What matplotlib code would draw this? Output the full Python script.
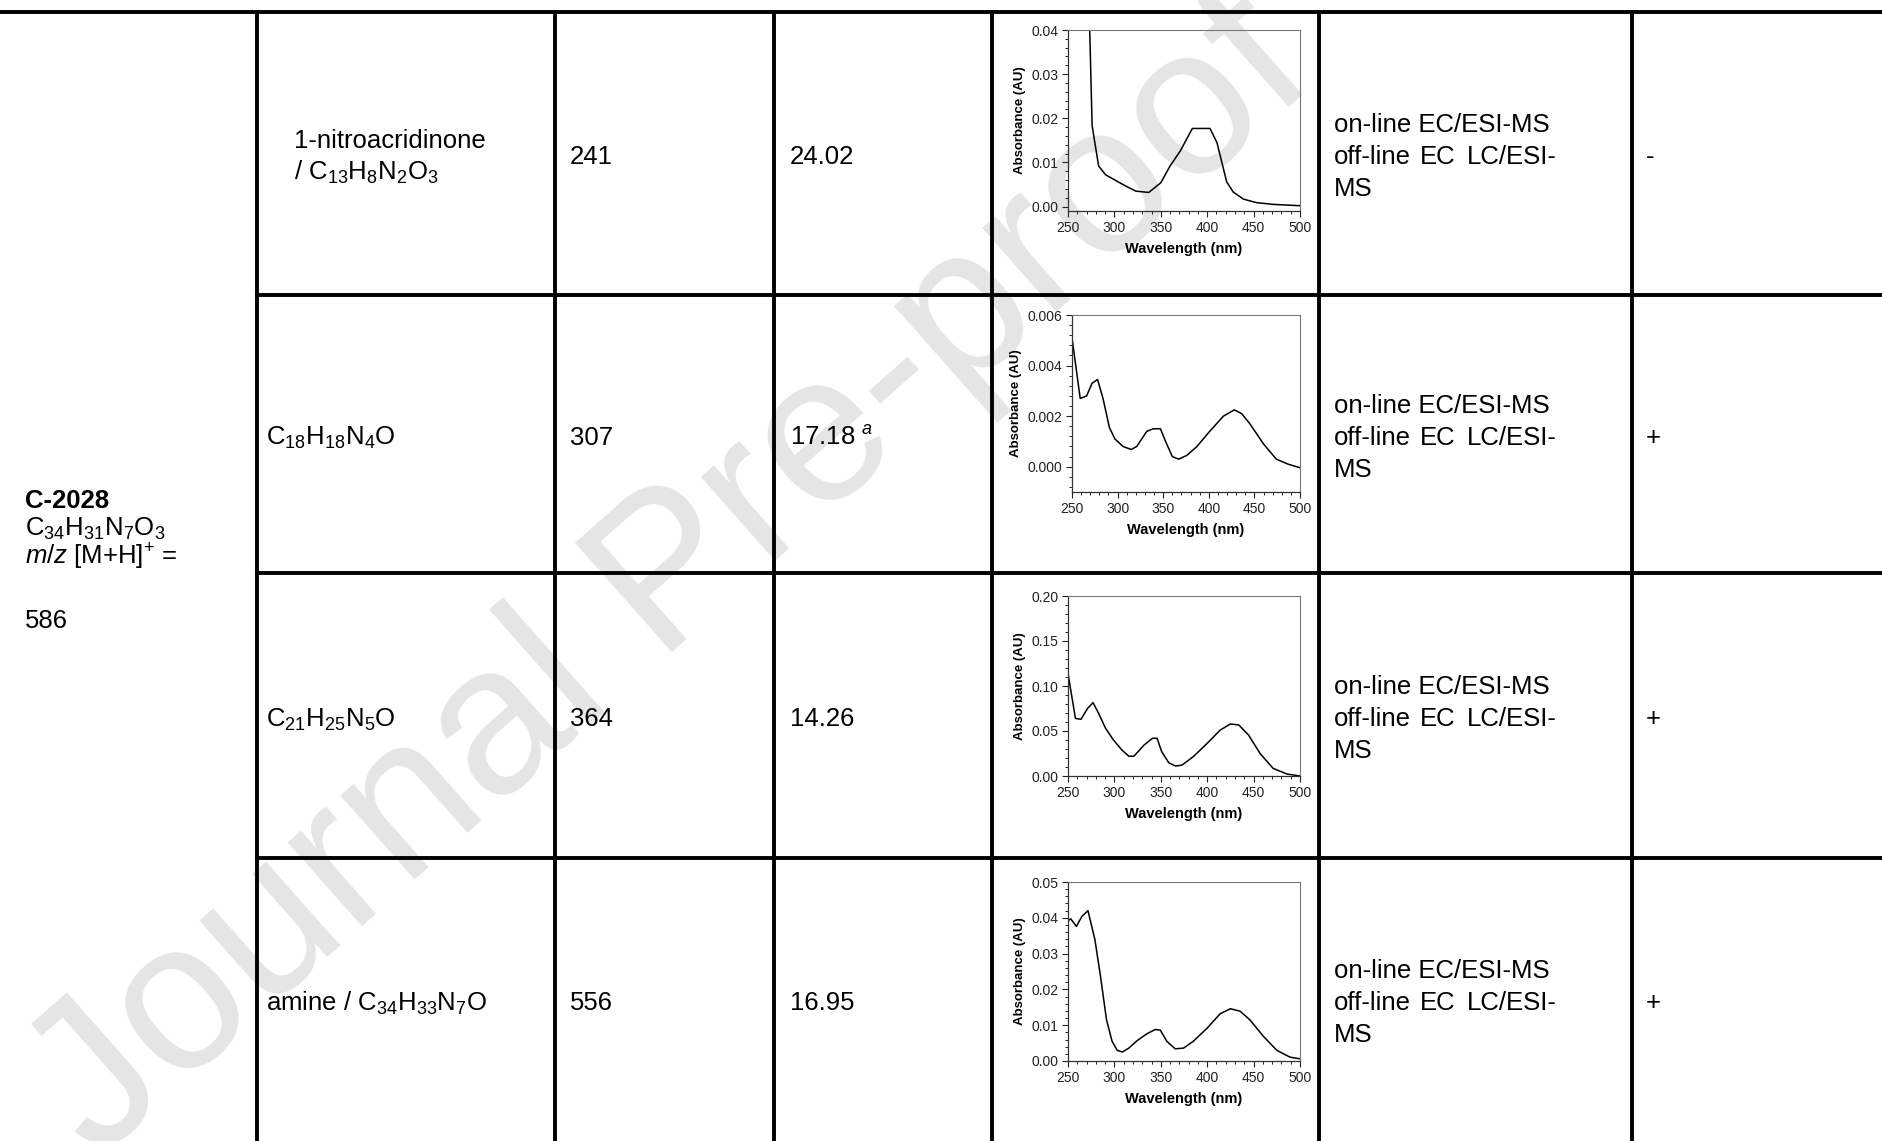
import matplotlib.pyplot as plt
from matplotlib.lines import Line2D
from matplotlib.ticker import MultipleLocator, FormatStrFormatter

plt.rcParams['font.family'] = ['Liberation Sans', 'DejaVu Sans']
plt.rcParams['mathtext.fontset'] = 'custom'
plt.rcParams['mathtext.rm'] = 'Liberation Sans'
plt.rcParams['mathtext.it'] = 'Liberation Sans:italic'
plt.rcParams['mathtext.bf'] = 'Liberation Sans:bold'

# table content
parent_lines = ["C-2028", "C$_{34}$H$_{31}$N$_7$O$_3$", "$\\mathit{m/z}$ [M+H]$^{+}$ =", "586"]
compounds = ["1-nitroacridinone\n/ C$_{13}$H$_8$N$_2$O$_3$",
             "C$_{18}$H$_{18}$N$_4$O",
             "C$_{21}$H$_{25}$N$_5$O",
             "amine / C$_{34}$H$_{33}$N$_7$O"]
mz_values = ["241", "307", "364", "556"]
rt_values = ["24.02", "17.18 $^{\\mathit{a}}$", "14.26", "16.95"]
signs = ["-", "+", "+", "+"]

# UV spectra (wavelength nm, absorbance AU)
wl_1 = [271, 276, 283, 290.5, 299, 310, 323, 337, 350, 360, 371, 384, 403, 410.5, 421, 428, 439, 453, 471, 500]
ab_1 = [0.06, 0.0183, 0.0092, 0.0072, 0.0062, 0.0049, 0.0035, 0.0032, 0.0054, 0.0092, 0.0126, 0.0177, 0.0177,
        0.0145, 0.0056, 0.0033, 0.0017, 0.0009, 0.0005, 0.0002]

wl_2 = [250, 259, 266, 272, 278, 284, 291, 297, 306, 315, 321, 332, 339, 347, 352, 360, 367, 376, 387, 401,
        416, 428, 436, 445, 460, 474, 487, 500]
ab_2 = [0.0051, 0.0027, 0.0028, 0.0033, 0.00345, 0.0027, 0.00155, 0.0011, 0.0008, 0.00068, 0.0008, 0.0014,
        0.0015, 0.0015, 0.00105, 0.0004, 0.0003, 0.00045, 0.0008, 0.0014, 0.002, 0.00225, 0.0021, 0.0017,
        0.0009, 0.0003, 0.0001, -0.00004]

wl_3 = [250, 258, 264, 271, 277, 283, 290.5, 299, 308, 315.5, 321, 332, 341, 346, 351, 358.5, 366, 373, 385,
        400, 414, 425, 434, 444.5, 457, 471, 486, 500]
ab_3 = [0.114, 0.064, 0.063, 0.075, 0.0815, 0.0696, 0.053, 0.040, 0.029, 0.022, 0.022, 0.0344, 0.0419, 0.0419,
        0.027, 0.0148, 0.011, 0.0122, 0.0215, 0.0363, 0.051, 0.0578, 0.0567, 0.0456, 0.025, 0.0085, 0.0022, 0.0]

wl_4 = [250, 253, 259, 265, 271.5, 279, 285, 291.5, 297.5, 303, 308.5, 315.5, 324.5, 335, 344, 349.5, 356.5,
        365.5, 374.5, 385, 400, 414, 425, 435.5, 446, 460.5, 475, 489, 500]
ab_4 = [0.0392, 0.0397, 0.0376, 0.0404, 0.042, 0.0339, 0.0237, 0.0115, 0.0055, 0.003, 0.0025, 0.0036, 0.0057,
        0.0076, 0.0088, 0.0086, 0.0055, 0.0034, 0.0036, 0.0055, 0.0092, 0.0132, 0.0146, 0.0139, 0.0115, 0.0069,
        0.003, 0.0011, 0.0006]

spectra = [(wl_1, ab_1), (wl_2, ab_2), (wl_3, ab_3), (wl_4, ab_4)]
y_limits = [(-0.001, 0.04), (-0.001, 0.006), (0.0, 0.20), (0.0, 0.05)]
y_steps = [0.01, 0.002, 0.05, 0.01]
y_formats = ['%.2f', '%.3f', '%.2f', '%.2f']

W, H = 1883, 1141
fig = plt.figure(figsize=(W / 100, H / 100), dpi=100)


def fx(x):
    return x / W


def fy(y):
    return 1 - y / H


# watermark
fig.text(fx(672), fy(580), "Journal Pre-proof", fontsize=152, color='#e5e5e5', rotation=41.5,
         ha='center', va='center', zorder=-10)

# table grid
col_x = [257, 555, 774, 992, 1319, 1632]
row_y = [12, 295, 573, 858, 1141]
lw = 2.8
fig.add_artist(Line2D([0, 1], [fy(12), fy(12)], color='black', lw=lw, zorder=5))
for y in row_y[1:-1]:
    fig.add_artist(Line2D([fx(col_x[0]), 1], [fy(y), fy(y)], color='black', lw=lw, zorder=5))
for x in col_x:
    fig.add_artist(Line2D([fx(x), fx(x)], [fy(12), 0], color='black', lw=lw, zorder=5))

fs = 18.5
# parent compound column
for txt, base, bold in zip(parent_lines, [508, 536, 564, 628], [True, False, False, False]):
    fig.text(fx(25), fy(base), txt, fontsize=fs, fontweight='bold' if bold else 'normal', va='baseline')

name_x = [294, 266, 266, 266]
for i in range(4):
    yc = (row_y[i] + row_y[i + 1]) / 2 + 4
    fig.text(fx(name_x[i]), fy(yc), compounds[i], fontsize=fs, va='center', linespacing=1.3)
    fig.text(fx(570), fy(yc), mz_values[i], fontsize=fs, va='center')
    fig.text(fx(790), fy(yc), rt_values[i], fontsize=fs, va='center')
    fig.text(fx(1334), fy(yc - 32), "on-line EC/ESI-MS", fontsize=fs, va='center')
    fig.text(fx(1334), fy(yc), "off-line", fontsize=fs, va='center')
    fig.text(fx(1438), fy(yc), "EC", fontsize=fs, va='center', ha='center')
    fig.text(fx(1557), fy(yc), "LC/ESI-", fontsize=fs, va='center', ha='right')
    fig.text(fx(1334), fy(yc + 32), "MS", fontsize=fs, va='center')
    fig.text(fx(1646), fy(yc), signs[i], fontsize=fs, va='center')

# spectra boxes (left, right, top, bottom) in pixels
boxes = [(1068, 1300, 30, 211), (1072, 1300, 315, 492), (1068, 1300, 596, 776), (1068, 1300, 882, 1061)]
for (wl, ab), (l, r, t, b), ylim, step, fmt in zip(spectra, boxes, y_limits, y_steps, y_formats):
    ax = fig.add_axes([fx(l), fy(b), (r - l) / W, (b - t) / H])
    ax.patch.set_alpha(0)
    ax.plot(wl, ab, color='black', lw=1.1)
    ax.set_xlim(250, 500)
    ax.set_ylim(*ylim)
    ax.xaxis.set_major_locator(MultipleLocator(50))
    ax.xaxis.set_minor_locator(MultipleLocator(10))
    ax.yaxis.set_major_locator(MultipleLocator(step))
    ax.yaxis.set_minor_locator(MultipleLocator(step / 5))
    ax.yaxis.set_major_formatter(FormatStrFormatter(fmt))
    ax.tick_params(which='major', direction='out', length=4, width=0.8, labelsize=10, pad=3, colors='#222222')
    ax.tick_params(which='minor', direction='out', length=2.5, width=0.6)
    for side in ['top', 'right']:
        ax.spines[side].set_color('#777777')
        ax.spines[side].set_linewidth(0.8)
    for side in ['left', 'bottom']:
        ax.spines[side].set_color('#333333')
        ax.spines[side].set_linewidth(0.9)
    ax.set_xlabel("Wavelength (nm)", fontsize=10.5, fontweight='bold', labelpad=5)
    ax.set_ylabel("Absorbance (AU)", fontsize=9.5, fontweight='bold', labelpad=4)

fig.savefig("out.png", dpi=100)
